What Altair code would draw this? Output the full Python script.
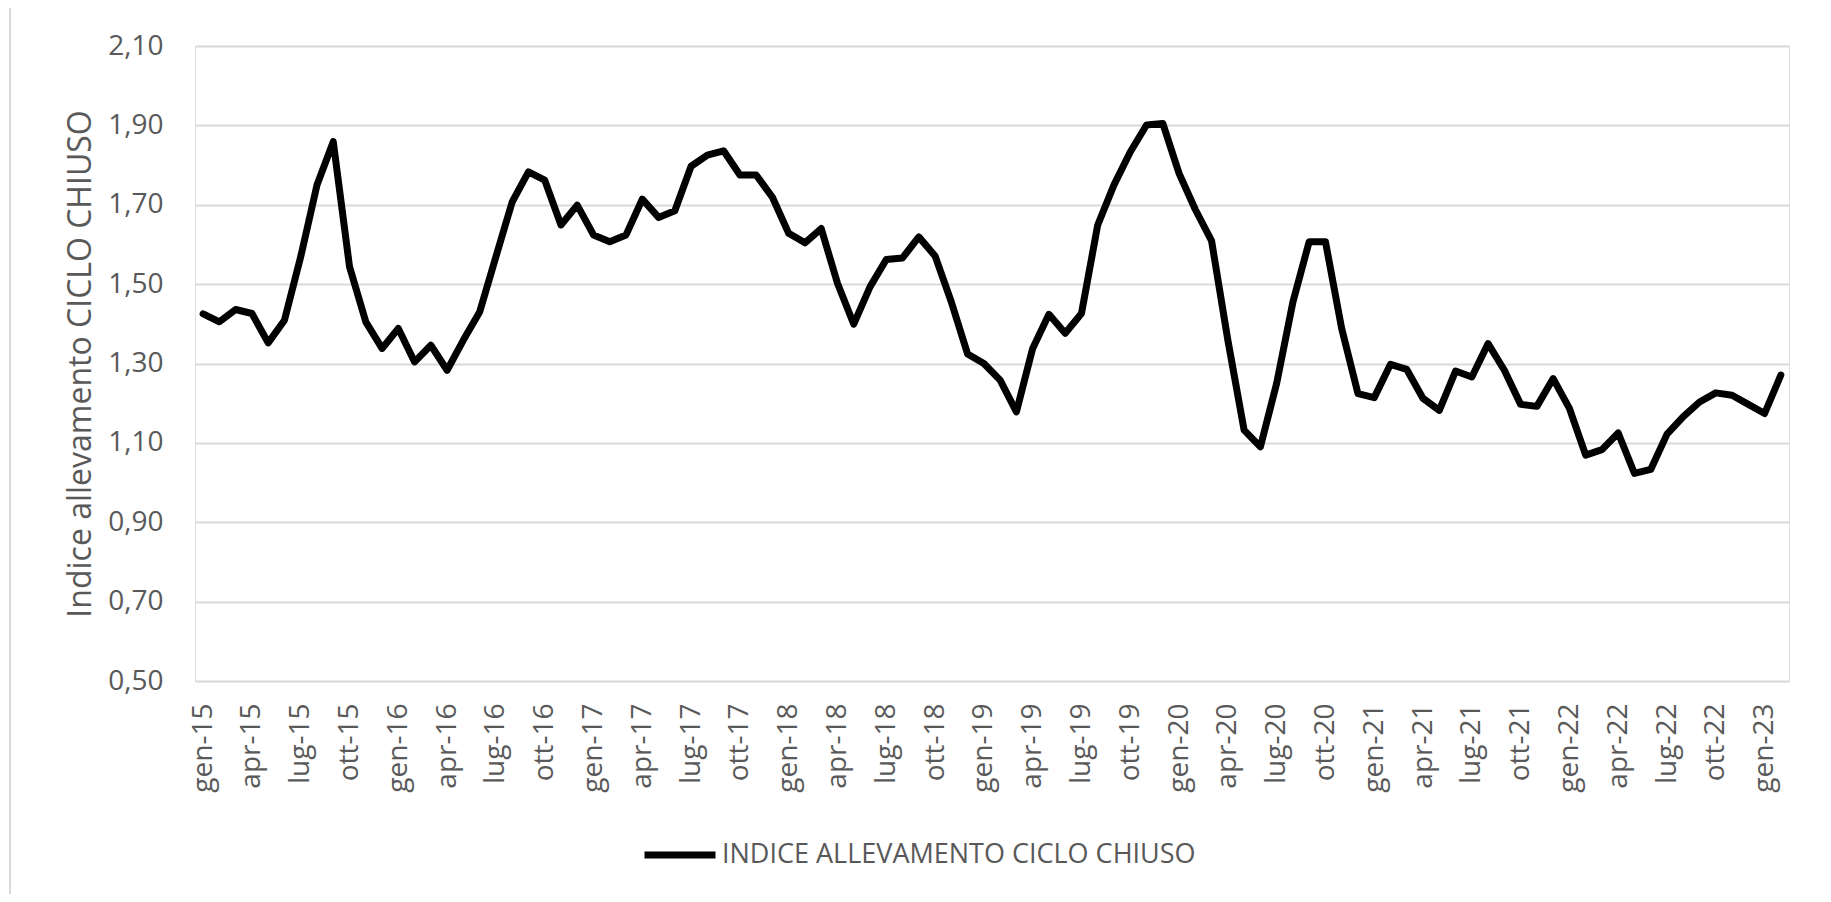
import altair as alt
import pandas as pd

# ---- data -------------------------------------------------------------
mesi_it = ["gen", "feb", "mar", "apr", "mag", "giu",
           "lug", "ago", "set", "ott", "nov", "dic"]
anni = ["15", "16", "17", "18", "19", "20", "21", "22", "23"]

valori = [
    1.425, 1.405, 1.436, 1.426, 1.352, 1.409, 1.569, 1.750, 1.859, 1.544, 1.405, 1.338,  # 2015
    1.388, 1.304, 1.346, 1.283, 1.359, 1.430, 1.569, 1.707, 1.783, 1.762, 1.649, 1.699,  # 2016
    1.624, 1.607, 1.624, 1.714, 1.668, 1.685, 1.797, 1.825, 1.836, 1.775, 1.775, 1.719,  # 2017
    1.628, 1.604, 1.640, 1.502, 1.399, 1.493, 1.562, 1.566, 1.619, 1.571, 1.455, 1.324,  # 2018
    1.300, 1.258, 1.178, 1.338, 1.424, 1.376, 1.426, 1.649, 1.750, 1.833, 1.901, 1.905,  # 2019
    1.779, 1.688, 1.609, 1.359, 1.132, 1.090, 1.250, 1.455, 1.607, 1.607, 1.388, 1.224,  # 2020
    1.214, 1.298, 1.285, 1.212, 1.182, 1.281, 1.266, 1.350, 1.283, 1.197, 1.192, 1.262,  # 2021
    1.187, 1.069, 1.083, 1.125, 1.023, 1.033, 1.122, 1.166, 1.203, 1.226, 1.220, 1.197,  # 2022
    1.174, 1.271,                                                                      # 2023
]

serie_nome = "INDICE ALLEVAMENTO CICLO CHIUSO"
y_ticks = [0.50, 0.70, 0.90, 1.10, 1.30, 1.50, 1.70, 1.90, 2.10]

etichette = [f"{m}-{a}" for a in anni for m in mesi_it][: len(valori)]
etichette_asse = [e for e in etichette if e.split("-")[0] in ("gen", "apr", "lug", "ott")]

df = pd.DataFrame({"mese": etichette, "valore": valori, "serie": serie_nome})

FONT = "Open Sans"
GREY = "#595959"
GRID = "#d9d9d9"

# ---- chart ------------------------------------------------------------
line = alt.Chart(df).mark_line(strokeWidth=7, strokeCap="round", strokeJoin="round").encode(
    x=alt.X(
        "mese:O",
        sort=etichette,
        scale=alt.Scale(paddingOuter=0.5),
        axis=alt.Axis(
            values=etichette_asse,
            title=None,
            labelAngle=270,
            labelFont=FONT,
            labelFontSize=28,
            labelColor=GREY,
            labelPadding=22,
            ticks=False,
            domain=False,
            grid=False,
        ),
    ),
    y=alt.Y(
        "valore:Q",
        scale=alt.Scale(domain=[0.5, 2.1], nice=False, zero=False),
        axis=alt.Axis(
            values=y_ticks,
            labelExpr="replace(format(datum.value, '.2f'), '.', ',')",
            title="Indice allevamento CICLO CHIUSO",
            titleFont=FONT,
            titleFontSize=32,
            titleFontWeight="normal",
            titleColor=GREY,
            titlePadding=10,
            labelFont=FONT,
            labelFontSize=28,
            labelColor=GREY,
            labelPadding=32,
            ticks=False,
            domain=False,
            grid=True,
            gridColor=GRID,
            gridWidth=2,
        ),
    ),
    color=alt.Color(
        "serie:N",
        scale=alt.Scale(range=["#000000"]),
        legend=alt.Legend(
            title=None,
            orient="none",
            legendX=446,
            legendY=770,
            symbolType="stroke",
            symbolSize=5041,
            symbolStrokeWidth=7,
            labelFont=FONT,
            labelFontSize=27,
            labelColor=GREY,
            labelOffset=3,
            labelLimit=0,
        ),
    ),
)

border = alt.Chart(pd.DataFrame({"k": [0]})).mark_rect(
    fill=None, stroke=GRID, strokeWidth=2
).encode(
    x=alt.value(-185), x2=alt.value(1632), y=alt.value(-41), y2=alt.value(900)
)

chart = alt.layer(border, line).properties(
    width=1594,
    height=635,
    autosize=alt.AutoSizeParams(type="none"),
    padding={"left": 187, "top": 38, "right": 34, "bottom": 213},
).configure_view(stroke=None).configure(background="white")

chart.save("out.html", embed_options={"renderer": "svg", "actions": False})
